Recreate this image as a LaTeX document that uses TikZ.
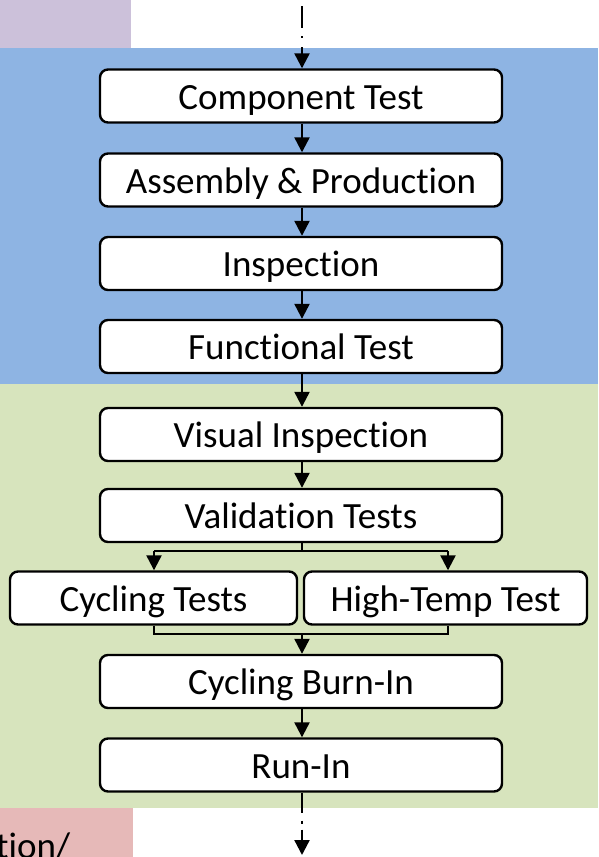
\documentclass[tikz,border=0pt]{standalone}
\usepackage{fontspec}
\setmainfont{Carlito}[Ligatures=CommonOff]
\usetikzlibrary{arrows.meta}

\definecolor{bandpurple}{HTML}{CCC1DA}
\definecolor{bandblue}{HTML}{8EB4E3}
\definecolor{bandgreen}{HTML}{D7E4BD}
\definecolor{bandpink}{HTML}{E6B9B8}

\tikzset{
  labelfont/.style={font=\fontsize{37}{44}\selectfont},
  stepbox/.style={draw=black, line width=2.4pt, fill=white, rounded corners=8pt,
    minimum height=53pt, inner sep=0pt, text height=26pt, text depth=0pt, labelfont},
  mainbox/.style={stepbox, minimum width=402pt},
  flow/.style={line width=2.3pt, -{Triangle[length=15pt,width=15pt]}},
  link/.style={line width=2.3pt},
}

\begin{document}
\begin{tikzpicture}[x=1pt, y=-1pt]
  \useasboundingbox (0,0) rectangle (598,857);
  \clip (0,0) rectangle (598,857);

  % background bands
  \fill[bandpurple] (0,0) rectangle (131,48);
  \fill[bandblue] (0,48) rectangle (598,384);
  \fill[bandgreen] (0,384) rectangle (598,808);
  \fill[bandpink] (0,808) rectangle (133,857);
  \node[anchor=base west, inner sep=0pt, labelfont] (tail) at (-4,858) {tion/};

  % process steps
  \node[mainbox] (comp) at (301,96)    {Component Test};
  \node[mainbox] (asm)  at (301,180)   {Assembly \& Production};
  \node[mainbox] (insp) at (301,263.5) {Inspection};
  \node[mainbox] (func) at (301,346.5) {Functional Test};
  \node[mainbox] (vis)  at (301,434.5) {Visual Inspection};
  \node[mainbox] (val)  at (301,515.5) {Validation Tests};
  \node[stepbox, minimum width=287pt] (cyc) at (153.5,598) {Cycling Tests};
  \node[stepbox, minimum width=283pt] (ht)  at (445.5,598) {High-Temp Test};
  \node[mainbox] (cbi)  at (301,681.5) {Cycling Burn-In};
  \node[mainbox] (run)  at (301,765)   {Run-In};

  % incoming and outgoing dash-dot links
  \coordinate (in)  at (302,0);
  \coordinate (out) at (302,855);
  \draw[flow, dash pattern=on 0pt off 6pt on 22pt off 8pt on 2pt off 9pt on 60pt]
    (in) -- (in |- comp.north);
  \draw[flow, dash pattern=on 20pt off 8pt on 3pt off 6pt on 60pt]
    (run.south -| out) -- (out);

  % straight flow
  \draw[flow] (comp.south -| in) -- (asm.north -| in);
  \draw[flow] (asm.south -| in) -- (insp.north -| in);
  \draw[flow] (insp.south -| in) -- (func.north -| in);
  \draw[flow] (func.south -| in) -- (vis.north -| in);
  \draw[flow] (vis.south -| in) -- (val.north -| in);

  % split into parallel tests
  \coordinate (split) at (302,551);
  \coordinate (sl) at (154,551);
  \coordinate (sr) at (448,551);
  \draw[link] (val.south -| in) -- (split);
  \draw[link] (sl) -- (sr);
  \draw[flow] (sl) -- (sl |- cyc.north);
  \draw[flow] (sr) -- (sr |- ht.north);

  % merge back
  \coordinate (ml) at (154,634);
  \coordinate (mr) at (448,634);
  \coordinate (merge) at (302,634);
  \draw[link] (ml |- cyc.south) -- (ml) -- (mr) -- (mr |- ht.south);
  \draw[flow] (merge) -- (cbi.north -| in);
  \draw[flow] (cbi.south -| in) -- (run.north -| in);
\end{tikzpicture}
\end{document}
